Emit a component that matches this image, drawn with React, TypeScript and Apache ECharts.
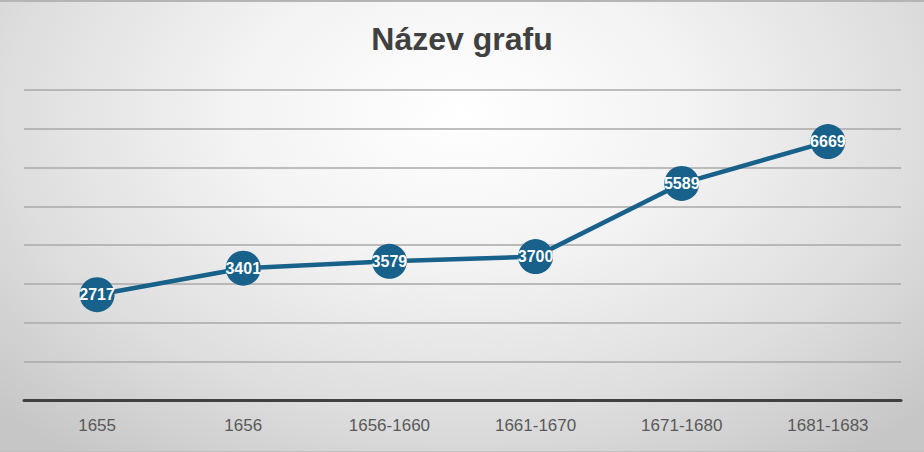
import React, { useEffect, useRef } from "react";
import * as echarts from "echarts";

const categories = ["1655", "1656", "1656-1660", "1661-1670", "1671-1680", "1681-1683"];
const values = [2717, 3401, 3579, 3700, 5589, 6669];
const yMin = 0;
const yMax = 8000;
const yStep = 1000;
const title = "Název grafu";

export default function App() {
  const ref = useRef<HTMLDivElement>(null);
  useEffect(() => {
    document.body.style.margin = "0";
    if (!ref.current) return;
    const chart = echarts.init(ref.current, null, { renderer: "svg" });
    chart.setOption({
      animation: false,
      backgroundColor: "transparent",
      title: {
        text: title,
        left: "center",
        top: 16,
        textStyle: {
          fontFamily: "'Liberation Sans', Arial, sans-serif",
          fontSize: 32,
          fontWeight: "bold",
          color: "#404040",
        },
      },
      grid: { left: 24, right: 23, top: 88, bottom: 51 },
      xAxis: {
        type: "category",
        data: categories,
        boundaryGap: true,
        axisLine: { lineStyle: { color: "#404040", width: 3 } },
        axisTick: { show: false },
        axisLabel: {
          color: "#595959",
          fontSize: 17,
          fontFamily: "'Liberation Sans', Arial, sans-serif",
          margin: 17,
        },
      },
      yAxis: {
        type: "value",
        min: yMin,
        max: yMax,
        interval: yStep,
        axisLabel: { show: false },
        axisLine: { show: false },
        axisTick: { show: false },
        splitLine: {
          show: true,
          lineStyle: {
            color: "#a8a8a8",
            width: 1.5,
            type: "solid",
          },
        },
      },
      series: [
        {
          type: "line",
          data: values,
          symbol: "circle",
          symbolSize: 35,
          itemStyle: { color: "#17618a" },
          lineStyle: { color: "#17618a", width: 4.5 },
          label: {
            show: true,
            position: "inside",
            color: "#ffffff",
            fontSize: 16,
            fontWeight: "bold",
            fontFamily: "'Liberation Sans', Arial, sans-serif",
          },
        },
      ],
    });
    return () => chart.dispose();
  }, []);
  return (
    <div
      style={{
        width: 924,
        height: 452,
        boxSizing: "border-box",
        borderTop: "2px solid #b4b4b4",
        borderBottom: "1px solid #c0c0c0",
        background:
          "radial-gradient(ellipse 70% 95% at 50% 25%, #ffffff 0%, #f3f3f3 35%, #dedede 70%, #c6c6c6 100%)",
      }}
    >
      <div ref={ref} style={{ width: 924, height: 449 }} />
    </div>
  );
}
